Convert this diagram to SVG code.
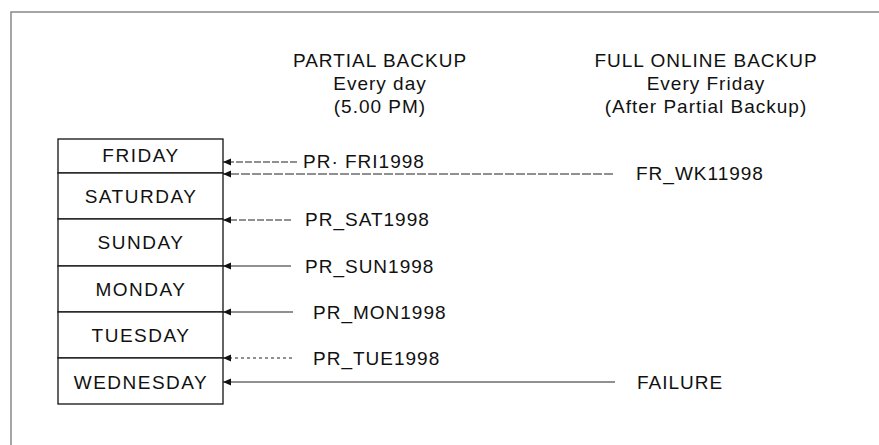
<svg xmlns="http://www.w3.org/2000/svg" width="879" height="445" viewBox="0 0 879 445">
<defs>
<marker id="ah" markerWidth="9" markerHeight="8" refX="8" refY="3.5" orient="auto" markerUnits="userSpaceOnUse">
<path d="M0,0 L8,3.5 L0,7 z" fill="#111"/>
</marker>
<style>
text{font-family:"Liberation Sans",Arial,sans-serif;font-size:19px;letter-spacing:1px;fill:#111}
.c{text-anchor:middle}
.day{letter-spacing:1.5px}
.row{fill:#fff;stroke:#111;stroke-width:1.3}
.con{stroke:#222;stroke-width:1.2;fill:none;marker-end:url(#ah)}
.frame{stroke:#888;stroke-width:1.5;fill:none}
</style>
</defs>
<rect width="879" height="445" fill="#fff"/>
<path class="frame" d="M11,445 L11,12 L879,12"/>
<g id="header-partial">
<text class="c" x="380" y="67">PARTIAL BACKUP</text>
<text class="c" x="380" y="90">Every day</text>
<text class="c" x="380" y="113">(5.00 PM)</text>
</g>
<g id="header-full">
<text class="c" x="706" y="67">FULL ONLINE BACKUP</text>
<text class="c" x="706" y="90">Every Friday</text>
<text class="c" x="706" y="113">(After Partial Backup)</text>
</g>
<g id="friday"><rect class="row" x="58" y="139" width="165" height="34"/><text class="c day" x="141" y="162">FRIDAY</text></g>
<g id="saturday"><rect class="row" x="58" y="173" width="165" height="46"/><text class="c day" x="141" y="203">SATURDAY</text></g>
<g id="sunday"><rect class="row" x="58" y="219" width="165" height="47"/><text class="c day" x="141" y="249">SUNDAY</text></g>
<g id="monday"><rect class="row" x="58" y="266" width="165" height="46"/><text class="c day" x="141" y="296">MONDAY</text></g>
<g id="tuesday"><rect class="row" x="58" y="312" width="165" height="46"/><text class="c day" x="141" y="342">TUESDAY</text></g>
<g id="wednesday"><rect class="row" x="58" y="358" width="165" height="46"/><text class="c day" x="141" y="389">WEDNESDAY</text></g>
<g id="pr-fri"><text x="303" y="168">PR· FRI1998</text></g>
<g id="fr-wk"><text x="636" y="180">FR_WK11998</text></g>
<g id="pr-sat"><text x="305" y="226">PR_SAT1998</text></g>
<g id="pr-sun"><text x="305" y="273">PR_SUN1998</text></g>
<g id="pr-mon"><text x="313" y="319">PR_MON1998</text></g>
<g id="pr-tue"><text x="313" y="365">PR_TUE1998</text></g>
<g id="failure"><text x="637" y="389">FAILURE</text></g>
<g id="connectors">
<line class="con" x1="297" y1="162" x2="223" y2="162" stroke-dasharray="7,2"/>
<line class="con" x1="613" y1="174" x2="223" y2="174" stroke-dasharray="9,2"/>
<line class="con" x1="291" y1="220" x2="223" y2="220" stroke-dasharray="7,2"/>
<line class="con" x1="291" y1="266" x2="223" y2="266"/>
<line class="con" x1="293" y1="312" x2="223" y2="312"/>
<line class="con" x1="292" y1="358" x2="223" y2="358" stroke-dasharray="3,3"/>
<line class="con" x1="615" y1="382" x2="223" y2="382"/>
</g>
</svg>
